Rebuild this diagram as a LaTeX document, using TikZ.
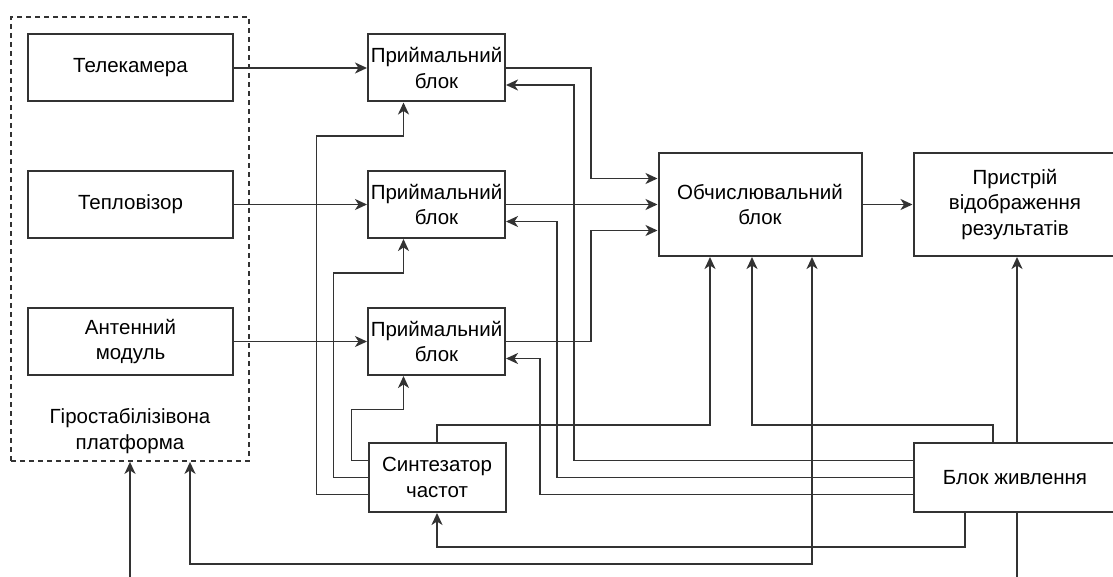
\documentclass[tikz,border=0pt]{standalone}
\usepackage{fontspec}
\setmainfont{Liberation Sans}
\usetikzlibrary{arrows.meta}

\begin{document}
\begin{tikzpicture}[x=1pt,y=-1pt,line width=1.8pt,color=black!80,
    blk/.style={draw,line width=2pt,fill=white,text=black,align=center,inner sep=0pt,
      font=\fontsize{20.5}{25.5}\selectfont},
    src/.style={blk,minimum width=205pt,minimum height=67pt},
    rx/.style={blk,minimum width=137pt,minimum height=67pt},
    big/.style={blk,minimum width=203pt,minimum height=103pt},
    arr/.style={-{Stealth[length=12pt,width=11pt,inset=3.5pt]}},
    arrs/.style={{Stealth[length=12pt,width=11pt,inset=3.5pt]}-{Stealth[length=12pt,width=11pt,inset=3.5pt]}}]
    \useasboundingbox (0,0) rectangle (1113,577);
    \node[draw,dash pattern=on 5pt off 4pt,minimum width=238pt,minimum height=444pt] (plat) at (130,239) {};
    \node[text=black,align=center,font=\fontsize{20.5}{25.5}\selectfont] (platname) at (130,431) {Гіростабілізівона\\платформа};
    \node[src] (cam) at (130.5,68) {Телекамера};
    \node[src] (therm) at (130.5,204.5) {Тепловізор};
    \node[src] (ant) at (130.5,341.5) {Антенний\\модуль};
    \node[rx] (rx1) at (436.5,68) {Приймальний\\блок};
    \node[rx] (rx2) at (436.5,204.5) {Приймальний\\блок};
    \node[rx] (rx3) at (436.5,341.5) {Приймальний\\блок};
    \node[big] (comp) at (760,204.5) {Обчислювальний\\блок};
    \node[big] (disp) at (1015,204.5) {Пристрій\\відображення\\результатів};
    \node[rx,minimum height=69pt] (synth) at (437,477.5) {Синтезатор\\частот};
    \node[big,minimum height=69pt] (pwr) at (1015,477.5) {Блок живлення};
    \coordinate (platin) at (130,577);
    \coordinate (pwrin) at (1017,577);
    \draw[arr] (cam) -- (rx1);
    \draw[arr] (therm) -- (rx2);
    \draw[arr] (ant) -- (rx3);
    \draw[arr] (rx1.east) -- ++(85,0) |- ([yshift=26pt]comp.west);
    \draw[arr] (rx2) -- (comp);
    \draw[arr] (rx3.east) -- ++(85,0) |- ([yshift=-26pt]comp.west);
    \draw[arr] (comp) -- (disp);
    \draw[arr] ([yshift=17pt]pwr.west) -| ([xshift=68pt,yshift=-17pt]rx1.east) -- ([yshift=-17pt]rx1.east);
    \draw[arr] (pwr.west) -| ([xshift=51pt,yshift=-17pt]rx2.east) -- ([yshift=-17pt]rx2.east);
    \draw[arr] ([yshift=-17pt]pwr.west) -| ([xshift=34pt,yshift=-17pt]rx3.east) -- ([yshift=-17pt]rx3.east);
    \draw[arr] ([yshift=17pt]synth.west) -| ++(-16,-51) -| ([xshift=-33pt]rx3.south);
    \draw[arr] (synth.west) -| ++(-34,-204.5) -| ([xshift=-33pt]rx2.south);
    \draw[arr] ([yshift=-17pt]synth.west) -| ++(-51,-358.5) -| ([xshift=-33pt]rx1.south);
    \draw[arr] (synth.north) -- ++(0,-17) -| ([xshift=-50pt]comp.south);
    \draw[arr] ([xshift=-22pt]pwr.north) -- ++(0,-17) -| ([xshift=-8pt]comp.south);
    \draw[arr] ([xshift=-50pt]pwr.south) -- ++(0,34) -| (synth.south);
    \draw[arr] ([xshift=2pt]pwr.north) -- ([xshift=2pt]disp.south);
    \draw[arrs] ([xshift=52pt]comp.south) -- ++(0,307) -| ([xshift=60pt]plat.south);
    \draw[arr] (platin) -- (plat.south);
    \draw (pwrin) -- ([xshift=2pt]pwr.south);
\end{tikzpicture}
\end{document}
